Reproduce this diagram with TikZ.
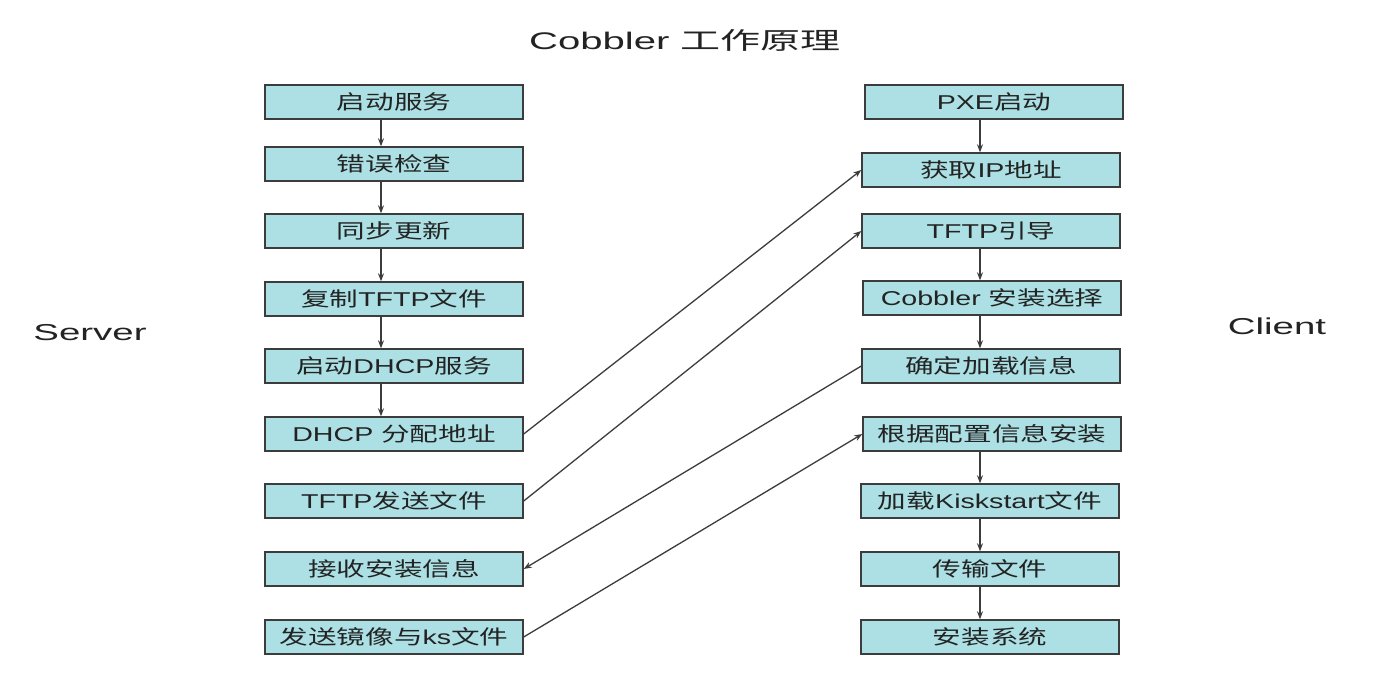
\documentclass[tikz,border=0pt]{standalone}
\usepackage{fontspec}
\usetikzlibrary{arrows.meta}
\setmainfont{Liberation Sans}[FakeStretch=1.43]
\newfontfamily\cjk{Noto Sans CJK SC}[FakeStretch=1.43]
\newfontfamily\latT{Liberation Sans}[FakeStretch=1.67]
\newfontfamily\cjkT{Noto Sans CJK SC}[FakeStretch=1.67]
\newcommand\zh[1]{{\cjk #1}}
\newcommand\zhT[1]{{\cjkT #1}}
\definecolor{boxfill}{RGB}{172,224,228}
\definecolor{boxline}{RGB}{60,60,60}
\definecolor{txt}{RGB}{35,35,35}
\begin{document}
\begin{tikzpicture}[x=1pt,y=-1pt,
  stepbox/.style={draw=boxline,line width=1.4pt,fill=boxfill,minimum width=258pt,minimum height=34pt,inner sep=0pt,text=txt,font=\fontsize{20}{24}\selectfont},
  flow/.style={draw=boxline,line width=1.3pt,-{Stealth[length=8pt,width=6pt]}},
  label/.style={text=txt,inner sep=0pt,font=\fontsize{23}{27}\selectfont\latT}]
\useasboundingbox (0,0) rectangle (1397,691);
\fill[white] (0,0) rectangle (1397,691);
\node[label,font=\fontsize{24}{28}\selectfont\latT] (title) at (685,40) {Cobbler \zhT{工作原理}};
\node[label] (server) at (90,333) {Server};
\node[label] (client) at (1277,326) {Client};
\coordinate (la) at (381,0);
\coordinate (ra) at (980,0);
% left column
\node[stepbox] (l1) at (394,102) {\zh{启动服务}};
\node[stepbox] (l2) at (394,164) {\zh{错误检查}};
\node[stepbox] (l3) at (394,231) {\zh{同步更新}};
\node[stepbox] (l4) at (394,299) {\zh{复制}TFTP\zh{文件}};
\node[stepbox] (l5) at (394,366) {\zh{启动}DHCP\zh{服务}};
\node[stepbox] (l6) at (394,434) {DHCP \zh{分配地址}};
\node[stepbox] (l7) at (394,501) {TFTP\zh{发送文件}};
\node[stepbox] (l8) at (394,569) {\zh{接收安装信息}};
\node[stepbox] (l9) at (394,637) {\zh{发送镜像与}ks\zh{文件}};
% right column
\node[stepbox] (r1) at (994,102) {PXE\zh{启动}};
\node[stepbox] (r2) at (991,170) {\zh{获取}IP\zh{地址}};
\node[stepbox] (r3) at (991,231) {TFTP\zh{引导}};
\node[stepbox] (r4) at (992,298) {Cobbler \zh{安装选择}};
\node[stepbox] (r5) at (991,366) {\zh{确定加载信息}};
\node[stepbox] (r6) at (992,434) {\zh{根据配置信息安装}};
\node[stepbox] (r7) at (990,501) {\zh{加载}Kiskstart\zh{文件}};
\node[stepbox] (r8) at (990,569) {\zh{传输文件}};
\node[stepbox] (r9) at (990,637) {\zh{安装系统}};
% vertical arrows
\foreach \a/\b in {l1/l2,l2/l3,l3/l4,l4/l5,l5/l6}
  \draw[flow] (\a.south -| la) -- (\b.north -| la);
\foreach \a/\b in {r1/r2,r3/r4,r4/r5,r6/r7,r7/r8,r8/r9}
  \draw[flow] (\a.south -| ra) -- (\b.north -| ra);
% cross arrows
\draw[flow] (l6.east) -- (r2.west);
\draw[flow] (l7.east) -- (r3.west);
\draw[flow] (r5.west) -- (l8.east);
\draw[flow] (l9.east) -- (r6.west);
\end{tikzpicture}
\end{document}
